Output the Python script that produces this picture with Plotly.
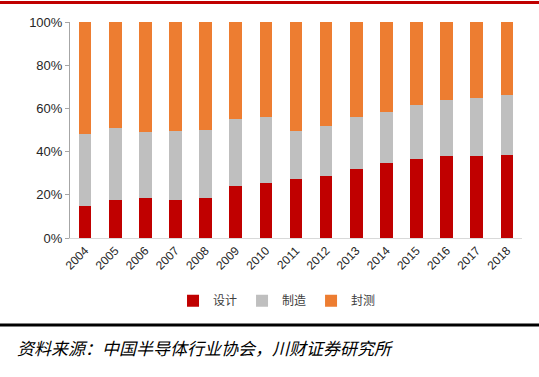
import plotly.graph_objects as go

years = ["2004", "2005", "2006", "2007", "2008", "2009", "2010", "2011",
         "2012", "2013", "2014", "2015", "2016", "2017", "2018"]
design = [14.8, 17.4, 18.4, 17.7, 18.7, 24.2, 25.3, 27.2, 28.7, 31.9, 34.6, 36.4, 37.8, 38.1, 38.4]
manufacture = [33.3, 33.4, 30.7, 32.0, 31.3, 30.8, 30.9, 22.2, 23.0, 24.0, 23.6, 25.0, 26.1, 26.9, 27.8]
packaging = [round(100 - d - m, 1) for d, m in zip(design, manufacture)]

series_names = ["设计", "制造", "封测"]
colors = ["#C00000", "#BFBFBF", "#ED7D31"]

fig = go.Figure()
for name, vals, col in zip(series_names, [design, manufacture, packaging], colors):
    fig.add_trace(go.Bar(x=years, y=vals, name=name, marker=dict(color=col, line=dict(width=0))))

fig.update_layout(
    barmode="stack",
    bargap=0.58,
    width=539, height=377,
    margin=dict(l=70, r=17, t=22, b=139),
    paper_bgcolor="white", plot_bgcolor="white",
    font=dict(family="Liberation Sans, Arial, sans-serif", size=13, color="#404040"),
    showlegend=True,
    legend=dict(orientation="h", traceorder="normal", x=0.458, xanchor="center", y=-0.29, yanchor="middle",
                font=dict(family="Noto Sans CJK SC", size=12, color="#404040"),
                itemwidth=30, tracegroupgap=0, itemclick=False),
    xaxis=dict(tickangle=-45, showline=True, linecolor="#D9D9D9", linewidth=1,
               ticks="", tickfont=dict(size=12, color="#262626")),
    yaxis=dict(range=[0, 100], tickvals=[0, 20, 40, 60, 80, 100],
               ticktext=["0%", "20%", "40%", "60%", "80%", "100%"],
               showline=True, linecolor="#A6A6A6", linewidth=1,
               ticks="outside", ticklen=4, tickcolor="#A6A6A6",
               showgrid=False, zeroline=False, tickfont=dict(size=13, color="#262626")),
)

fig.add_shape(type="line", xref="paper", yref="paper", x0=-0.16, x1=1.04, y0=1.09, y1=1.09,
              line=dict(color="#C00000", width=3))
fig.add_shape(type="line", xref="paper", yref="paper", x0=-0.16, x1=1.04, y0=-0.403, y1=-0.403,
              line=dict(color="#000000", width=3))
fig.add_annotation(xref="paper", yref="paper", x=-0.1217, y=-0.509, xanchor="left", yanchor="middle",
                   text="<i>资料来源：中国半导体行业协会，川财证券研究所</i>", showarrow=False,
                   font=dict(family="Noto Sans CJK SC", size=17, color="#000000"))

fig.write_html("out.html", config={"displayModeBar": False},
               post_script="document.body.style.margin='0';")
